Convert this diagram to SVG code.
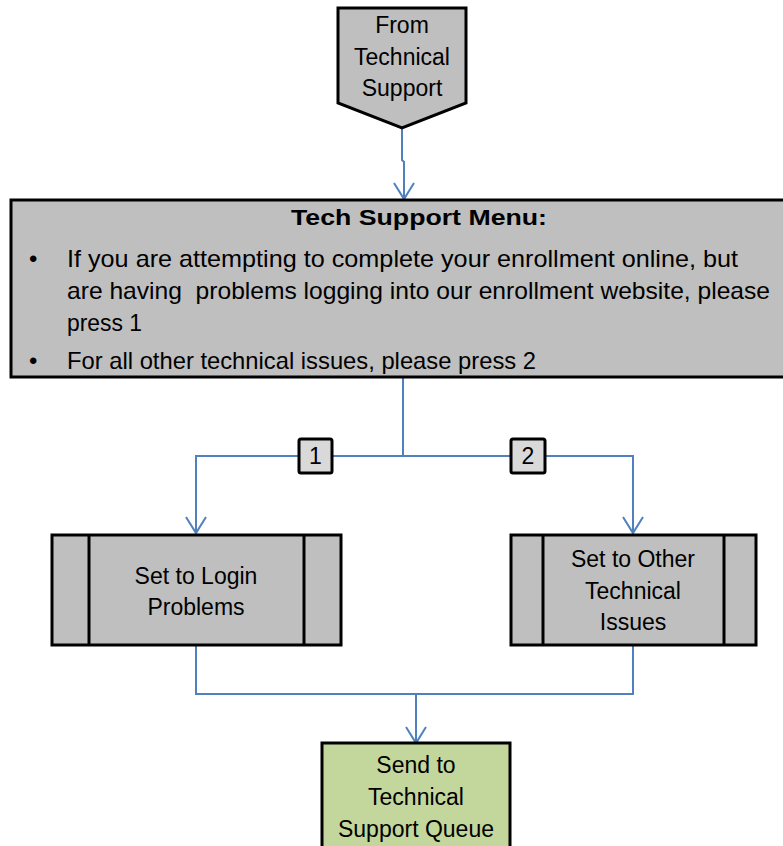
<svg xmlns="http://www.w3.org/2000/svg" width="783" height="846" viewBox="0 0 783 846">
<style>
text{font-family:"Liberation Sans",Arial,sans-serif;fill:#000}
.n{font-size:23px;text-anchor:middle}
.m{font-size:24px}
.b{font-weight:bold;text-anchor:middle;font-size:22px}
.shape{fill:#bfbfbf;stroke:#000;stroke-width:3}
.c{fill:none;stroke:#4f81bd;stroke-width:2}
.lbl{fill:#d9d9d9;stroke:#000;stroke-width:3}
</style>
<defs>
<marker id="arr" viewBox="0 0 20 22" refX="18" refY="11" markerWidth="20" markerHeight="22" markerUnits="userSpaceOnUse" orient="auto">
<path d="M2,1 L18,11 L2,21" fill="none" stroke="#4f81bd" stroke-width="2"/>
</marker>
</defs>
<rect width="783" height="846" fill="#fff"/>
<g id="connectors">
<path class="c" d="M402,128 V160 L404,162 V199" marker-end="url(#arr)"/>
<path class="c" d="M403,377 V456 H196 V533" marker-end="url(#arr)"/>
<path class="c" d="M403,456 H633 V533" marker-end="url(#arr)"/>
<path class="c" d="M196,645 V694 H633 V645"/>
<path class="c" d="M416,694 V743" marker-end="url(#arr)"/>
</g>
<g id="label1">
<rect class="lbl" x="299" y="439" width="33" height="34" rx="2"/>
<text class="n" x="315.5" y="464" font-size="21">1</text>
</g>
<g id="label2">
<rect class="lbl" x="511" y="439" width="34" height="34" rx="2"/>
<text class="n" x="528" y="464" font-size="21">2</text>
</g>
<g id="start">
<path class="shape" d="M338,8 H466 V103 L402,128 L338,103 Z"/>
<text class="n" x="402" y="33">From</text>
<text class="n" x="402" y="65">Technical</text>
<text class="n" x="402" y="96">Support</text>
</g>
<g id="menu">
<rect class="shape" x="11" y="200" width="790" height="177"/>
<text class="b" x="419" y="225" textLength="256" lengthAdjust="spacingAndGlyphs">Tech Support Menu:</text>
<text class="m" x="29" y="267">•</text>
<text class="m" x="67" y="267" textLength="671" lengthAdjust="spacingAndGlyphs">If you are attempting to complete your enrollment online, but</text>
<text class="m" x="67" y="299" textLength="703" lengthAdjust="spacingAndGlyphs" xml:space="preserve">are having  problems logging into our enrollment website, please</text>
<text class="m" x="67" y="331" textLength="75" lengthAdjust="spacingAndGlyphs">press 1</text>
<text class="m" x="29" y="369">•</text>
<text class="m" x="67" y="369" textLength="469" lengthAdjust="spacingAndGlyphs">For all other technical issues, please press 2</text>
</g>
<g id="login">
<rect class="shape" x="52" y="535" width="289" height="110"/>
<line x1="89" y1="535" x2="89" y2="645" stroke="#000" stroke-width="3"/>
<line x1="304" y1="535" x2="304" y2="645" stroke="#000" stroke-width="3"/>
<text class="n" x="196" y="584">Set to Login</text>
<text class="n" x="196" y="615">Problems</text>
</g>
<g id="other">
<rect class="shape" x="511" y="535" width="245" height="110"/>
<line x1="543" y1="535" x2="543" y2="645" stroke="#000" stroke-width="3"/>
<line x1="724" y1="535" x2="724" y2="645" stroke="#000" stroke-width="3"/>
<text class="n" x="633" y="567">Set to Other</text>
<text class="n" x="633" y="599">Technical</text>
<text class="n" x="633" y="630">Issues</text>
</g>
<g id="queue">
<rect x="322" y="743" width="188" height="120" fill="#c3d69b" stroke="#000" stroke-width="3"/>
<text class="n" x="416" y="773">Send to</text>
<text class="n" x="416" y="805">Technical</text>
<text class="n" x="416" y="837">Support Queue</text>
</g>
</svg>
